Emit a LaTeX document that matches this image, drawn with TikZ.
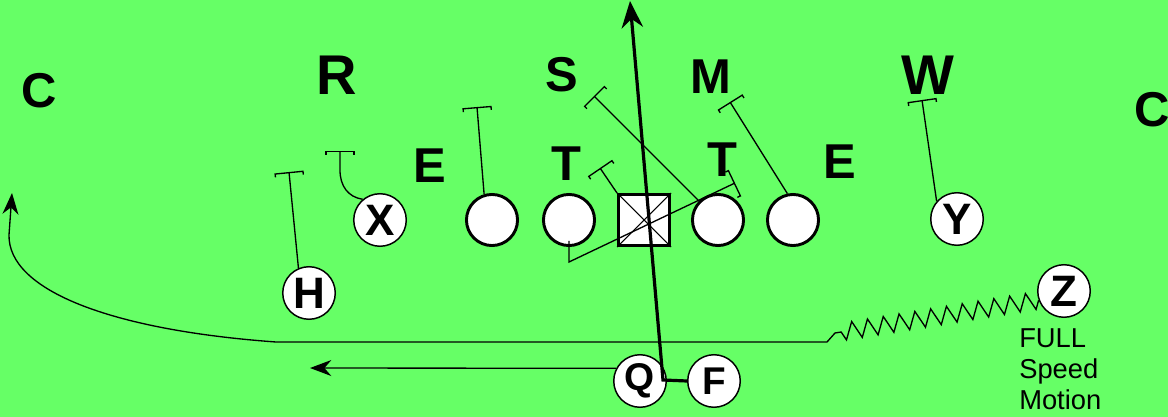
\documentclass[tikz,border=0pt]{standalone}
\usepackage{fontspec}
\setmainfont{Liberation Sans}
\usetikzlibrary{arrows.meta,decorations.pathmorphing}
\definecolor{field}{RGB}{102,255,102}
\tikzset{
	player/.style={circle,draw,fill=white,line width=1.1pt,minimum size=39.4pt,inner sep=0pt,font=\fontsize{33}{33}\selectfont\bfseries},
	back/.style={player,font=\fontsize{29}{29}\selectfont\bfseries},
	lineman/.style={circle,draw,fill=white,line width=2.2pt,minimum size=38.3pt,inner sep=0pt},
	snapbox/.style={rectangle,draw,fill=white,line width=2.2pt,minimum size=38.3pt,inner sep=0pt},
	defender/.style={inner sep=0pt,font=\fontsize{36.7}{36.7}\selectfont\bfseries},
	backer/.style={defender,font=\fontsize{42}{42}\selectfont\bfseries},
	block/.style={line width=1pt,-{Bracket[width=22pt,length=2.5pt]}},
	route/.style={line width=2.4pt,-{Stealth[length=20pt,width=16pt]}},
	motion/.style={line width=1pt,-{Stealth[length=16pt,width=12pt]}},
}
\begin{document}
\begin{tikzpicture}[x=0.75pt,y=0.75pt,yscale=-1,xscale=1]
	\path[use as bounding box,fill=field] (0,0) rectangle (1168,417);

	\node[defender] (cbl) at (39,91) {C};
	\node[backer] (rov) at (337,75) {R};
	\node[defender] (sam) at (562,75) {S};
	\node[defender] (mik) at (711,77) {M};
	\node[backer] (wil) at (928,75) {W};
	\node[defender] (cbr) at (1152,110) {C};
	\node[defender] (del) at (430,166) {E};
	\node[defender] (dtl) at (566,164) {T};
	\node[defender] (dtr) at (722,160) {T};
	\node[defender] (der) at (840,162) {E};

	\node[lineman] (lt) at (492,220) {};
	\node[lineman] (lg) at (569,220) {};
	\node[snapbox] (ctr) at (644,220) {};
	\node[lineman] (rg) at (718,220) {};
	\node[lineman] (rt) at (793,220) {};
	\draw[line width=0.8pt] (ctr.north west) -- (ctr.south east) (ctr.north east) -- (ctr.south west);

	\node[player] (h) at (309,293) {H};
	\node[player] (x) at (380,220) {X};
	\node[player] (y) at (957,219) {Y};
	\node[player] (z) at (1064,291) {Z};
	\node[back] (q) at (640,381) {Q};
	\node[back] (f) at (714,381) {F};
	\node[anchor=north west,inner sep=0pt,align=left,font=\fontsize{20.5}{23.25}\selectfont] (ztag) at (1019,328) {FULL\\Speed\\Motion};

	\coordinate (hblk) at (289,172);
	\coordinate (xblk) at (340,151);
	\coordinate (ltblk) at (477,107);
	\coordinate (lgblk) at (735,183);
	\coordinate (ctrblk) at (600,168);
	\coordinate (rgblk) at (594,96);
	\coordinate (rtblk) at (730,102);
	\coordinate (yblk) at (922,100);
	\coordinate (qpivot) at (663,380);
	\coordinate (qtip) at (630,1);
	\coordinate (qend) at (310,368);
	\coordinate (zbend) at (835,333);
	\coordinate (zturn) at (827,342);
	\coordinate (zcurve) at (276,342);
	\coordinate (ctip) at (12,193);

	\draw[block] (h.113) -- (hblk);
	\draw[block] (x.130) .. controls (348,197) and (340,186) .. (340,170) -- (xblk);
	\draw[block] (lt.107) -- (ltblk);
	\draw[block] (lg) ++(0,21) -- ++(0,21) -- (lgblk);
	\draw[block] (ctr.north west) -- (ctrblk);
	\draw[block] (rg) -- (rgblk);
	\draw[block] (rt.102) -- (rtblk);
	\draw[block] (y.139) -- (yblk);

	\draw[route] (f.west) -- (qpivot) -- (qtip);
	\draw[motion] (q.152) -- (qend);
	\draw[motion] (z.200) decorate[decoration={zigzag,segment length=12pt,amplitude=6.5pt}] {-- (zbend)} -- (zturn) -- (zcurve) .. controls (110,330) and (8,290) .. (9,235) -- (ctip);
\end{tikzpicture}
\end{document}
